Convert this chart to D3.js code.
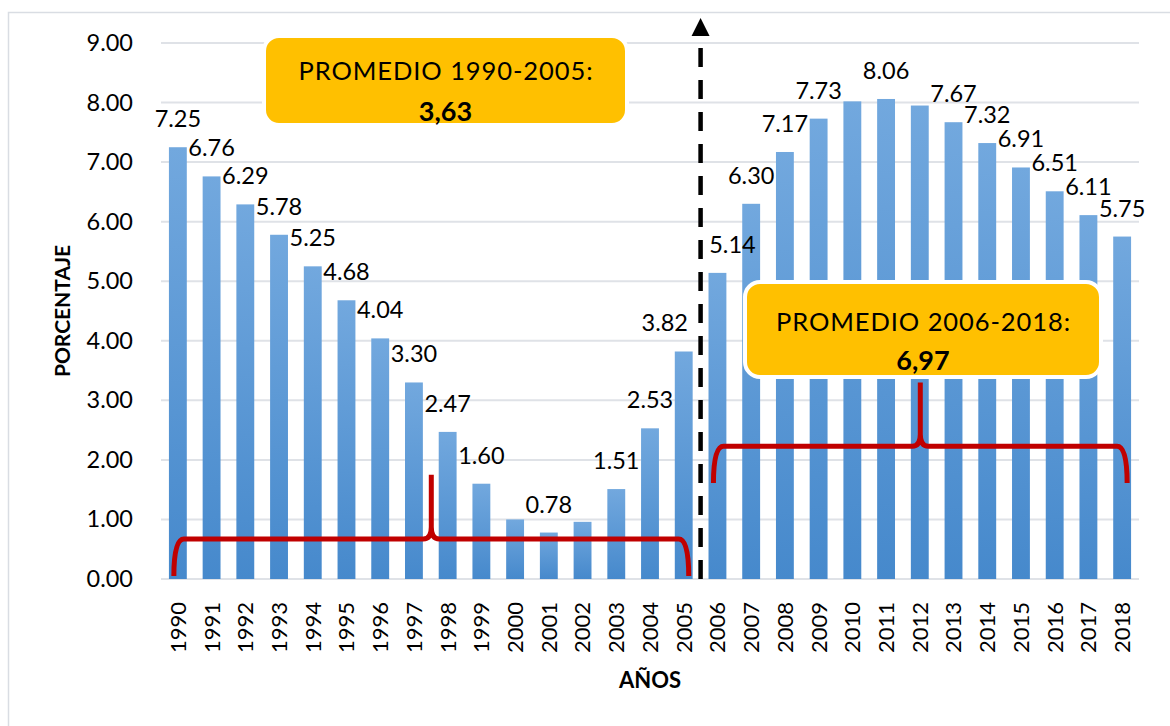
<!DOCTYPE html>
<html>
  <head>
    <meta charset="utf-8">
    <title>Porcentaje por año</title>
    <script src="https://d3js.org/d3.v7.min.js"></script>
    <style>
      body { margin: 0; background: #ffffff; }
      text { font-family: "Lato", "Open Sans", sans-serif; }
    </style>
  </head>
  <body>
    <svg width="1170" height="726"></svg>
    <script>
      // datos
      var years = [1990, 1991, 1992, 1993, 1994, 1995, 1996, 1997, 1998, 1999,
                   2000, 2001, 2002, 2003, 2004, 2005, 2006, 2007, 2008, 2009,
                   2010, 2011, 2012, 2013, 2014, 2015, 2016, 2017, 2018];
      var values = [7.25, 6.76, 6.29, 5.78, 5.25, 4.68, 4.04, 3.30, 2.47, 1.60,
                    1.00, 0.78, 0.96, 1.51, 2.53, 3.82, 5.14, 6.30, 7.17, 7.73,
                    8.02, 8.06, 7.95, 7.67, 7.32, 6.91, 6.51, 6.11, 5.75];
      // años cuyo valor no lleva etiqueta en el original
      var hiddenLabels = [2000, 2002, 2010, 2012];
      var yTicks = [0, 1, 2, 3, 4, 5, 6, 7, 8, 9];
      var periodStart = [1990, 2006];
      var periodEnd = [2005, 2018];
      // llaves rojas (en unidades del eje y)
      var braceBottom = [0.05, 1.61];
      var braceLevel = [0.67, 2.23];
      var bracePeak = [1.75, 3.30];

      var data = years.map(function(y, i) { return { year: y, value: values[i] }; });

      // etiquetas desplazadas a mano para no tocar la línea divisoria
      var labelShift = { 2005: -19, 2006: 15 };

      var svg = d3.select("svg");

      var plot = { left: 161, right: 1139, top: 43, bottom: 579 };

      // borde exterior del gráfico
      svg.append("rect")
          .attr("x", 8.5).attr("y", 12.5)
          .attr("width", 1170).attr("height", 730)
          .attr("fill", "#ffffff")
          .attr("stroke", "#d9dde3")
          .attr("stroke-width", 1.5);

      var xScale = d3.scaleBand()
          .domain(years)
          .range([plot.left, plot.right])
          .paddingInner(0.47)
          .paddingOuter(0.235);

      var yScale = d3.scaleLinear()
          .domain([0, 9])
          .range([plot.bottom, plot.top]);

      function cx(year) { return xScale(year) + xScale.bandwidth() / 2; }

      // gradiente de las barras
      var grad = svg.append("defs").append("linearGradient")
          .attr("id", "barGrad")
          .attr("x1", 0).attr("y1", 0).attr("x2", 0).attr("y2", 1);
      grad.append("stop").attr("offset", "0%").attr("stop-color", "#72a8de");
      grad.append("stop").attr("offset", "100%").attr("stop-color", "#4689cc");

      // líneas horizontales
      svg.append("g")
        .selectAll("line")
        .data(yTicks)
        .enter()
        .append("line")
          .attr("x1", plot.left)
          .attr("x2", plot.right)
          .attr("y1", function(d) { return yScale(d); })
          .attr("y2", function(d) { return yScale(d); })
          .attr("stroke", "#dfe2e7")
          .attr("stroke-width", 2);

      // eje y
      var yAxis = d3.axisLeft(yScale)
          .tickValues(yTicks)
          .tickFormat(d3.format(".2f"))
          .tickSize(0)
          .tickPadding(28);

      svg.append("g")
          .attr("transform", "translate(" + plot.left + ",0)")
          .call(yAxis)
          .call(function(g) { g.select(".domain").remove(); })
          .selectAll("text")
          .style("font-family", "Lato, sans-serif")
          .style("font-size", "23.5px")
          .attr("fill", "#000000");

      // eje x
      var xAxis = d3.axisBottom(xScale)
          .tickSize(0)
          .tickPadding(0);

      var xg = svg.append("g")
          .attr("transform", "translate(0," + plot.bottom + ")")
          .call(xAxis)
          .call(function(g) { g.select(".domain").remove(); });

      xg.selectAll("text")
          .style("font-family", "Lato, sans-serif")
          .style("font-size", "22px")
          .attr("fill", "#000000")
          .attr("text-anchor", "end")
          .attr("y", 0)
          .attr("dy", "0.36em")
          .attr("transform", "translate(0,23) rotate(-90)");

      // barras
      svg.append("g")
        .selectAll("rect")
        .data(data)
        .enter()
        .append("rect")
          .attr("x", function(d) { return xScale(d.year); })
          .attr("y", function(d) { return yScale(d.value); })
          .attr("width", xScale.bandwidth())
          .attr("height", function(d) { return yScale(0) - yScale(d.value); })
          .attr("fill", "url(#barGrad)");

      // etiquetas de valores
      svg.append("g")
        .selectAll("text")
        .data(data.filter(function(d) { return hiddenLabels.indexOf(d.year) < 0; }))
        .enter()
        .append("text")
          .attr("x", function(d) { return cx(d.year) + (labelShift[d.year] || 0); })
          .attr("y", function(d) { return yScale(d.value) - 20; })
          .attr("text-anchor", "middle")
          .style("font-size", "23.5px")
          .attr("fill", "#000000")
          .text(function(d) { return d3.format(".2f")(d.value); });

      // llaves rojas
      var r = 10;
      periodStart.forEach(function(s, i) {
        var x0 = cx(s) - 4,
            x1 = cx(periodEnd[i]) + 5,
            xm = (x0 + x1) / 2,
            yb = yScale(braceBottom[i]),
            yl = yScale(braceLevel[i]),
            yp = yScale(bracePeak[i]);
        var p = d3.path();
        p.moveTo(x0, yb);
        p.quadraticCurveTo(x0, yl, x0 + r, yl);
        p.lineTo(xm - 8, yl);
        p.quadraticCurveTo(xm, yl, xm, yl - 12);
        p.lineTo(xm, yp);
        p.moveTo(xm, yl - 12);
        p.quadraticCurveTo(xm, yl, xm + 8, yl);
        p.lineTo(x1 - r, yl);
        p.quadraticCurveTo(x1, yl, x1, yb);
        svg.append("path")
            .attr("d", p.toString())
            .attr("fill", "none")
            .attr("stroke", "#c00000")
            .attr("stroke-width", 5)
            .attr("stroke-linejoin", "round");
      });

      // línea divisoria con flecha
      var xDiv = (xScale(periodEnd[0]) + xScale.bandwidth() + xScale(periodStart[1])) / 2;
      svg.append("line")
          .attr("x1", xDiv).attr("x2", xDiv)
          .attr("y1", plot.bottom).attr("y2", 36)
          .attr("stroke", "#000000")
          .attr("stroke-width", 4.5)
          .attr("stroke-dasharray", "19,13");
      svg.append("path")
          .attr("d", "M" + (xDiv - 9) + ",36 L" + xDiv + ",18 L" + (xDiv + 9) + ",36 Z")
          .attr("fill", "#000000");

      // cuadros de promedio
      var fmtComma = function(v) { return d3.format(".2f")(v).replace(".", ","); };
      var boxes = [
        { x: 264, y: 36, w: 363, h: 89, l1: 80, l2: 121 },
        { x: 745, y: 282, w: 356, h: 95, l1: 331, l2: 370 }
      ];
      boxes.forEach(function(b, i) {
        var avg = d3.mean(data.filter(function(d) {
          return d.year >= periodStart[i] && d.year <= periodEnd[i];
        }), function(d) { return d.value; });
        svg.append("rect")
            .attr("x", b.x).attr("y", b.y)
            .attr("width", b.w).attr("height", b.h)
            .attr("rx", 15)
            .attr("fill", "#ffc000")
            .attr("stroke", "#ffffff")
            .attr("stroke-width", 4);
        svg.append("text")
            .attr("x", b.x + b.w / 2)
            .attr("y", b.l1)
            .attr("text-anchor", "middle")
            .attr("textLength", 294)
            .attr("lengthAdjust", "spacing")
            .style("font-size", "25.5px")
            .attr("fill", "#000000")
            .text("PROMEDIO " + periodStart[i] + "-" + periodEnd[i] + ":");
        svg.append("text")
            .attr("x", b.x + b.w / 2)
            .attr("y", b.l2)
            .attr("text-anchor", "middle")
            .style("font-size", "27px")
            .style("font-weight", "bold")
            .attr("fill", "#000000")
            .text(fmtComma(avg));
      });

      // títulos de ejes
      svg.append("text")
          .attr("transform", "translate(70," + ((plot.top + plot.bottom) / 2) + ") rotate(-90)")
          .attr("text-anchor", "middle")
          .style("font-size", "21px")
          .style("font-weight", "bold")
          .attr("fill", "#000000")
          .text("PORCENTAJE");

      svg.append("text")
          .attr("x", (plot.left + plot.right) / 2)
          .attr("y", 688)
          .attr("text-anchor", "middle")
          .style("font-size", "22px")
          .style("font-weight", "bold")
          .attr("fill", "#000000")
          .text("AÑOS");
    </script>
  </body>
</html>
